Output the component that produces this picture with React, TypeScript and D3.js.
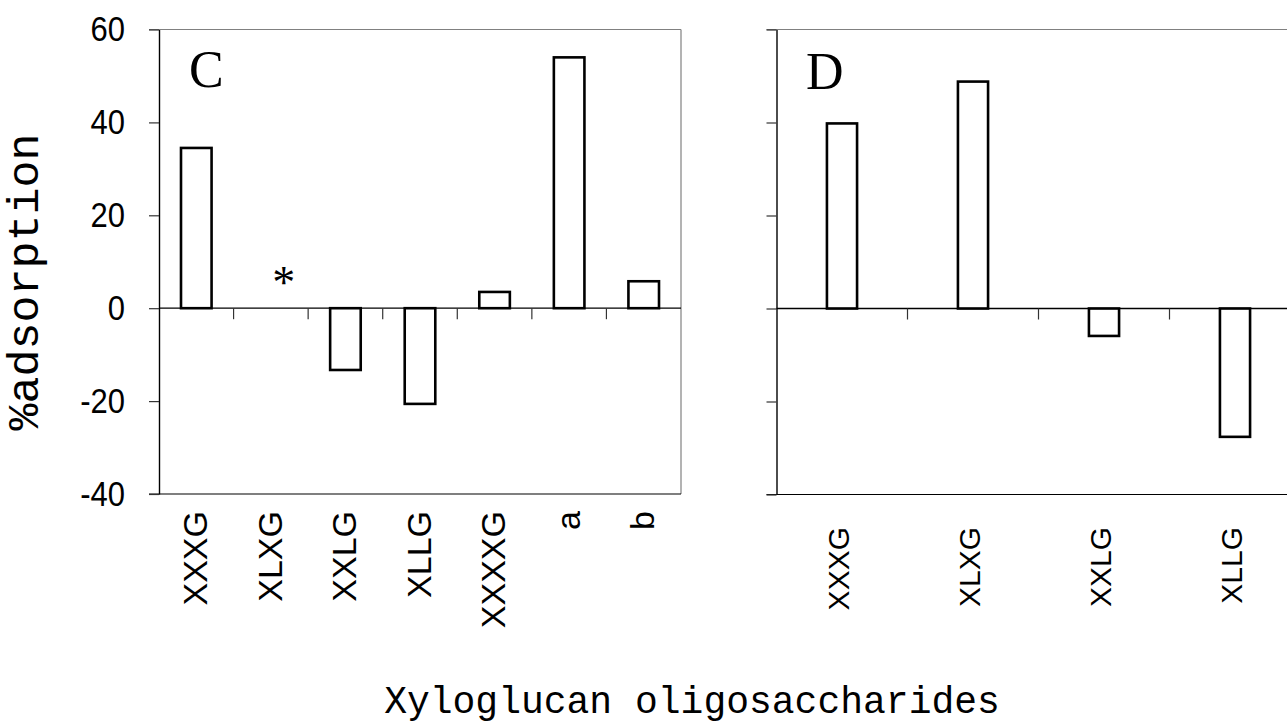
import React, { createRef } from 'react';
import { select, scaleLinear, scaleBand, axisLeft, Selection } from 'd3';

const WIDTH = 1287;
const HEIGHT = 723;

// panel C: XLXG has no value (marked with an asterisk)
const categoriesC = ['XXXG', 'XLXG', 'XXLG', 'XLLG', 'XXXXG', 'a', 'b'];
const valuesC: Array<number | null> = [34.5, null, -13.3, -20.6, 3.5, 54, 5.8];
const markedC = ['XLXG'];

// panel D
const categoriesD = ['XXXG', 'XLXG', 'XXLG', 'XLLG'];
const valuesD: Array<number | null> = [39.8, 48.8, -5.9, -27.6];

const yTicks = [60, 40, 20, 0, -20, -40];
const yDomain = [-40, 60];

const svgRef = createRef<SVGSVGElement>();

interface PanelLayout {
  left: number;
  right: number;
  top: number;
  bottom: number;
  rightBorder: boolean;
  barFraction: number;
  showTickLabels: boolean;
  labelFont: number;
  labelTop: number;
  labelShift: number;
  letter: string;
  letterX: number;
  letterY: number;
}

const SANS = '"Liberation Sans", Arial, sans-serif';
const MONO = '"Liberation Mono", "Courier New", monospace';
const SERIF = '"Liberation Serif", "Times New Roman", serif';

function drawPanel(
  svg: Selection<SVGSVGElement | null, unknown, null, undefined>,
  layout: PanelLayout,
  categories: Array<string>,
  values: Array<number | null>,
  marked: Array<string>,
): void {
  const x = scaleBand<string>().domain(categories).range([layout.left, layout.right]);
  const y = scaleLinear().domain(yDomain).range([layout.bottom, layout.top]);
  const bw = x.bandwidth();
  const barW = bw * layout.barFraction;
  const frameEnd = layout.rightBorder ? layout.right : WIDTH + 20;

  const g = svg.append('g');

  // top border (gray)
  g.append('line')
    .attr('x1', layout.left - 10)
    .attr('x2', frameEnd)
    .attr('y1', y(60))
    .attr('y2', y(60))
    .attr('stroke', '#808080')
    .attr('stroke-width', 1.2);

  if (layout.rightBorder) {
    g.append('line')
      .attr('x1', layout.right)
      .attr('x2', layout.right)
      .attr('y1', y(60))
      .attr('y2', y(-40))
      .attr('stroke', '#808080')
      .attr('stroke-width', 1.2);
  }

  // bottom border
  g.append('line')
    .attr('x1', layout.left - 10)
    .attr('x2', frameEnd)
    .attr('y1', y(-40))
    .attr('y2', y(-40))
    .attr('stroke', '#000')
    .attr('stroke-width', 1.2);

  // y axis
  const yAxis = axisLeft(y)
    .tickValues(yTicks)
    .tickSize(10)
    .tickSizeOuter(0)
    .tickPadding(24)
    .tickFormat((d) => (layout.showTickLabels ? String(d) : ''));
  const yG = g
    .append('g')
    .attr('transform', `translate(${layout.left},0)`)
    .call(yAxis);
  yG.select('.domain').attr('stroke', '#000').attr('stroke-width', 1.4);
  yG.selectAll('.tick line').attr('stroke', '#333').attr('stroke-width', 1.2);
  yG.selectAll('.tick text')
    .attr('fill', '#000')
    .attr('transform', 'scale(1,1.12)')
    .style('font-family', SANS)
    .style('font-size', '31px');

  // zero line
  g.append('line')
    .attr('x1', layout.left)
    .attr('x2', frameEnd)
    .attr('y1', y(0))
    .attr('y2', y(0))
    .attr('stroke', '#000')
    .attr('stroke-width', 1.3);

  // category separator ticks on the zero line
  g.selectAll('.xtick')
    .data(categories.slice(1))
    .enter()
    .append('line')
    .attr('class', 'xtick')
    .attr('x1', (d) => x(d) as number)
    .attr('x2', (d) => x(d) as number)
    .attr('y1', y(0))
    .attr('y2', y(0) + 11)
    .attr('stroke', '#333')
    .attr('stroke-width', 1.2);

  // bars
  const rows = categories
    .map((c, i) => ({ c, v: values[i] }))
    .filter((r) => r.v !== null) as Array<{ c: string; v: number }>;
  g.selectAll('.bar')
    .data(rows)
    .enter()
    .append('rect')
    .attr('class', 'bar')
    .attr('x', (d) => (x(d.c) as number) + (bw - barW) / 2)
    .attr('y', (d) => y(Math.max(0, d.v)))
    .attr('width', barW)
    .attr('height', (d) => Math.abs(y(d.v) - y(0)))
    .attr('fill', '#fff')
    .attr('stroke', '#000')
    .attr('stroke-width', 2.6);

  // asterisk for missing value
  g.selectAll('.mark')
    .data(marked)
    .enter()
    .append('text')
    .attr('class', 'mark')
    .attr('x', (d) => (x(d) as number) + bw / 2 + 13)
    .attr('y', y(0) - 10)
    .attr('text-anchor', 'middle')
    .style('font-family', SERIF)
    .style('font-size', '46px')
    .text('*');

  // rotated category labels
  g.selectAll('.cat')
    .data(categories)
    .enter()
    .append('text')
    .attr('class', 'cat')
    .attr(
      'transform',
      (d) =>
        `translate(${(x(d) as number) + bw / 2 + layout.labelShift + 0.358 * layout.labelFont},${layout.labelTop}) rotate(-90)`,
    )
    .attr('text-anchor', 'end')
    .style('font-family', SANS)
    .style('font-size', `${layout.labelFont}px`)
    .text((d) => d);

  // panel letter
  g.append('text')
    .attr('x', layout.letterX)
    .attr('y', layout.letterY)
    .style('font-family', SERIF)
    .style('font-size', '52px')
    .text(layout.letter);
}

export default class App extends React.Component {
  componentDidMount(): void {
    const svg = select(svgRef.current);
    svg.selectAll('*').remove();

    drawPanel(
      svg,
      {
        left: 159,
        right: 681,
        top: 29.5,
        bottom: 494,
        rightBorder: true,
        barFraction: 0.41,
        showTickLabels: true,
        labelFont: 34,
        labelTop: 511,
        labelShift: -1.5,
        letter: 'C',
        letterX: 189,
        letterY: 87,
      },
      categoriesC,
      valuesC,
      markedC,
    );

    drawPanel(
      svg,
      {
        left: 776.5,
        right: 1300.5,
        top: 29.5,
        bottom: 494.5,
        rightBorder: false,
        barFraction: 0.23,
        showTickLabels: false,
        labelFont: 30,
        labelTop: 527,
        labelShift: -4,
        letter: 'D',
        letterX: 806,
        letterY: 89,
      },
      categoriesD,
      valuesD,
      [],
    );

    // axis titles
    svg
      .append('text')
      .attr('transform', 'translate(38,282) rotate(-90)')
      .attr('text-anchor', 'middle')
      .style('font-family', MONO)
      .style('font-size', '45px')
      .style('font-weight', 300)
      .text('%adsorption');

    svg
      .append('text')
      .attr('x', 692)
      .attr('y', 713)
      .attr('text-anchor', 'middle')
      .style('font-family', MONO)
      .style('font-size', '38px')
      .style('font-weight', 300)
      .text('Xyloglucan oligosaccharides');
  }

  render(): JSX.Element {
    return (
      <svg
        ref={svgRef}
        width={WIDTH}
        height={HEIGHT}
        style={{ position: 'absolute', left: 0, top: 0, background: '#fff' }}
      />
    );
  }
}
